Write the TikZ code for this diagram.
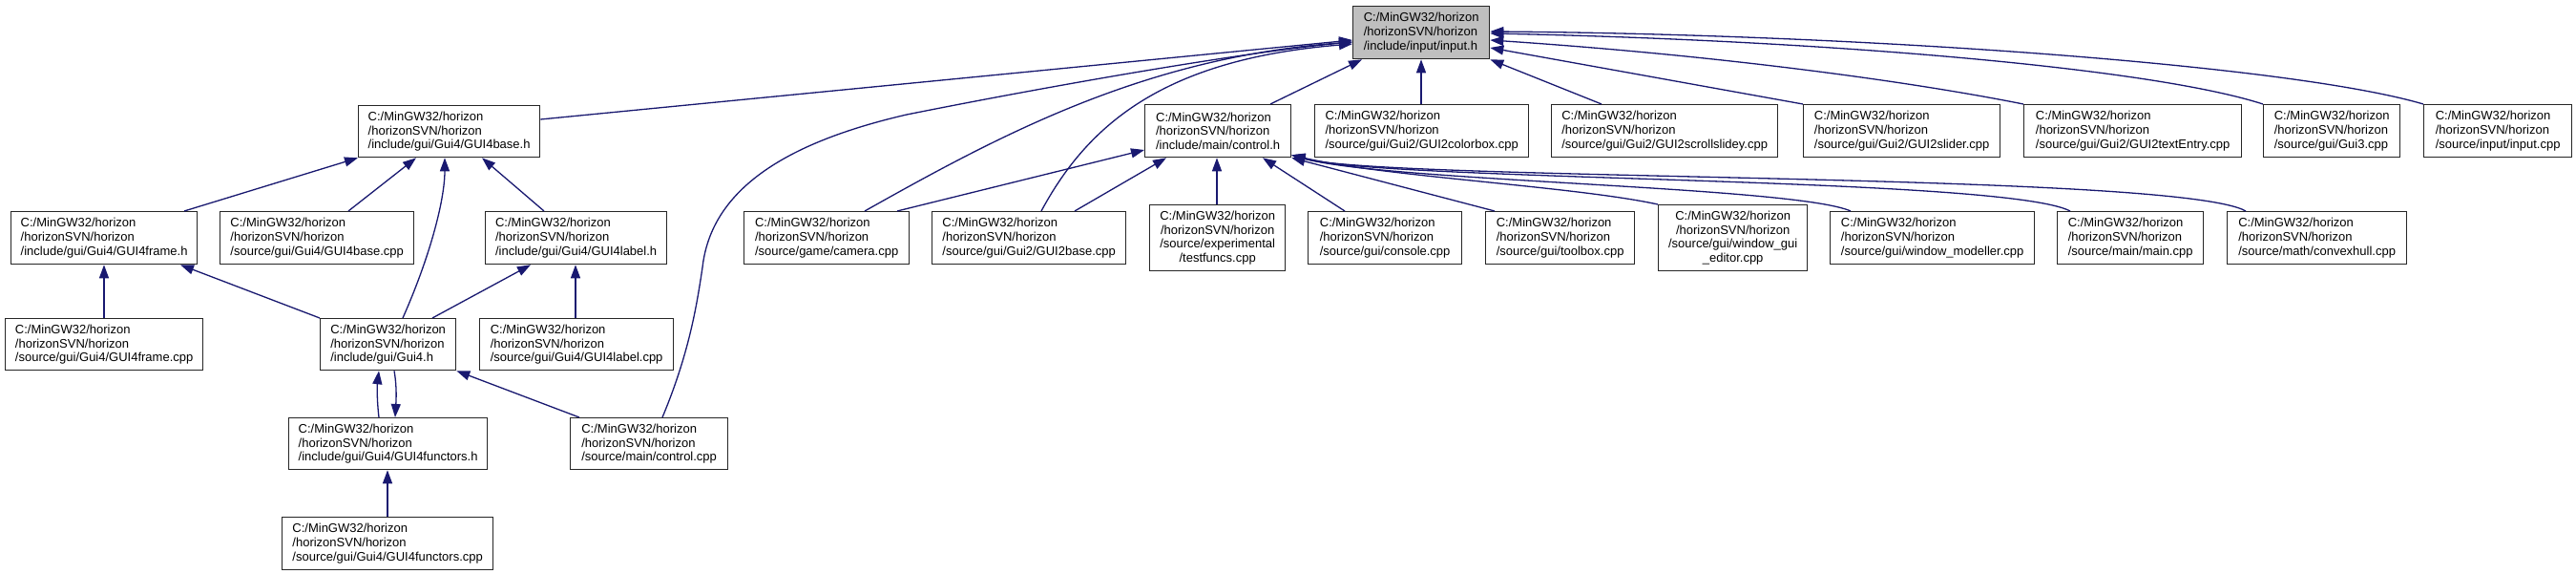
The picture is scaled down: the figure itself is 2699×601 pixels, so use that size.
\documentclass[tikz,border=0pt]{standalone}
\usepackage{fontspec}
\setmainfont{Liberation Sans}
\usetikzlibrary{arrows.meta}
\definecolor{edgeblue}{HTML}{191970}
\definecolor{hlgray}{HTML}{BFBFBF}
\tikzset{
  filebox/.style={draw=black!85, line width=1.3pt, fill=white, inner sep=0pt, anchor=north west,
    align=left, font=\fontsize{13}{14.7}\selectfont},
  dep/.style={draw=edgeblue, line width=1.3pt, -{Triangle[length=14pt,width=10pt]}},
}
\newcommand{\fb}[4]{minimum width=#3pt, minimum height=#4pt}
\begin{document}
\begin{tikzpicture}[x=1pt,y=-1pt]
\useasboundingbox[fill=white] (0,0) rectangle (2699,601);

% row 0
\node[filebox, fill=hlgray, minimum width=143pt, minimum height=55pt] (in) at (1417,6) {C:/MinGW32/horizon\\/horizonSVN/horizon\\/include/input/input.h};

% row 1
\node[filebox, minimum width=190pt, minimum height=54pt] (gbh) at (375,110) {C:/MinGW32/horizon\\/horizonSVN/horizon\\/include/gui/Gui4/GUI4base.h};
\node[filebox, minimum width=153pt, minimum height=55pt] (ctlh) at (1199,109) {C:/MinGW32/horizon\\/horizonSVN/horizon\\/include/main/control.h};
\node[filebox, minimum width=224pt, minimum height=55pt] (colorbox) at (1377,109) {C:/MinGW32/horizon\\/horizonSVN/horizon\\/source/gui/Gui2/GUI2colorbox.cpp};
\node[filebox, minimum width=237pt, minimum height=55pt] (scroll) at (1625,109) {C:/MinGW32/horizon\\/horizonSVN/horizon\\/source/gui/Gui2/GUI2scrollslidey.cpp};
\node[filebox, minimum width=206pt, minimum height=55pt] (slider) at (1889,109) {C:/MinGW32/horizon\\/horizonSVN/horizon\\/source/gui/Gui2/GUI2slider.cpp};
\node[filebox, minimum width=228pt, minimum height=55pt] (textentry) at (2120,109) {C:/MinGW32/horizon\\/horizonSVN/horizon\\/source/gui/Gui2/GUI2textEntry.cpp};
\node[filebox, minimum width=143pt, minimum height=55pt] (gui3) at (2371,109) {C:/MinGW32/horizon\\/horizonSVN/horizon\\/source/gui/Gui3.cpp};
\node[filebox, minimum width=155pt, minimum height=55pt] (inputcpp) at (2539,109) {C:/MinGW32/horizon\\/horizonSVN/horizon\\/source/input/input.cpp};

% row 2
\node[filebox, minimum width=195pt, minimum height=55pt] (gfh) at (11,221) {C:/MinGW32/horizon\\/horizonSVN/horizon\\/include/gui/Gui4/GUI4frame.h};
\node[filebox, minimum width=203pt, minimum height=55pt] (gbcpp) at (230,221) {C:/MinGW32/horizon\\/horizonSVN/horizon\\/source/gui/Gui4/GUI4base.cpp};
\node[filebox, minimum width=190pt, minimum height=55pt] (glh) at (508,221) {C:/MinGW32/horizon\\/horizonSVN/horizon\\/include/gui/Gui4/GUI4label.h};
\node[filebox, minimum width=173pt, minimum height=55pt] (camera) at (779,221) {C:/MinGW32/horizon\\/horizonSVN/horizon\\/source/game/camera.cpp};
\node[filebox, minimum width=203pt, minimum height=55pt] (g2base) at (976,221) {C:/MinGW32/horizon\\/horizonSVN/horizon\\/source/gui/Gui2/GUI2base.cpp};
\node[filebox, align=center, minimum width=142pt, minimum height=69pt] (testf) at (1204,214) {C:/MinGW32/horizon\\/horizonSVN/horizon\\/source/experimental\\/testfuncs.cpp};
\node[filebox, minimum width=161pt, minimum height=55pt] (console) at (1370,221) {C:/MinGW32/horizon\\/horizonSVN/horizon\\/source/gui/console.cpp};
\node[filebox, minimum width=156pt, minimum height=55pt] (toolbox) at (1556,221) {C:/MinGW32/horizon\\/horizonSVN/horizon\\/source/gui/toolbox.cpp};
\node[filebox, align=center, minimum width=156pt, minimum height=69pt] (wge) at (1737,214) {C:/MinGW32/horizon\\/horizonSVN/horizon\\/source/gui/window\_gui\\\_editor.cpp};
\node[filebox, minimum width=214pt, minimum height=55pt] (wmod) at (1917,221) {C:/MinGW32/horizon\\/horizonSVN/horizon\\/source/gui/window\_modeller.cpp};
\node[filebox, minimum width=153pt, minimum height=55pt] (mainc) at (2155,221) {C:/MinGW32/horizon\\/horizonSVN/horizon\\/source/main/main.cpp};
\node[filebox, minimum width=188pt, minimum height=55pt] (convex) at (2333,221) {C:/MinGW32/horizon\\/horizonSVN/horizon\\/source/math/convexhull.cpp};

% row 3
\node[filebox, minimum width=207pt, minimum height=54pt] (gfcpp) at (5,333) {C:/MinGW32/horizon\\/horizonSVN/horizon\\/source/gui/Gui4/GUI4frame.cpp};
\node[filebox, minimum width=142pt, minimum height=54pt] (gui4h) at (335,333) {C:/MinGW32/horizon\\/horizonSVN/horizon\\/include/gui/Gui4.h};
\node[filebox, minimum width=203pt, minimum height=54pt] (glcpp) at (502,333) {C:/MinGW32/horizon\\/horizonSVN/horizon\\/source/gui/Gui4/GUI4label.cpp};

% row 4
\node[filebox, minimum width=208pt, minimum height=54pt] (gfunh) at (302,437) {C:/MinGW32/horizon\\/horizonSVN/horizon\\/include/gui/Gui4/GUI4functors.h};
\node[filebox, minimum width=165pt, minimum height=54pt] (ctlcpp) at (597,437) {C:/MinGW32/horizon\\/horizonSVN/horizon\\/source/main/control.cpp};

% row 5
\node[filebox, minimum width=221pt, minimum height=55pt] (gfuncpp) at (295,541) {C:/MinGW32/horizon\\/horizonSVN/horizon\\/source/gui/Gui4/GUI4functors.cpp};

% edges into input.h
\draw[dep] ([yshift=-15pt]gbh.north east) -- ([yshift=-36pt]in.north west);
\draw[dep] ([xshift=132pt]ctlh.north west) -- ([xshift=10pt]in.south west);
\draw[dep] ([xshift=112pt]colorbox.north west) -- ([xshift=72pt]in.south west);
\draw[dep] ([xshift=53pt]scroll.north west) -- (in.south east);
\draw[dep] (slider.north west) -- ([yshift=-44pt]in.north east);
\draw[dep] (textentry.north west) .. controls (2000,85) and (1800,58) .. ([yshift=-36pt]in.north east);
\draw[dep] (gui3.north west) .. controls (2250,70) and (1900,42) .. ([yshift=-29pt]in.north east);
\draw[dep] (inputcpp.north west) .. controls (2400,68) and (1950,36) .. ([yshift=-27pt]in.north east);
\draw[dep] ([xshift=127pt]camera.north west) .. controls (1050,140) and (1200,60) .. ([yshift=-38pt]in.north west);
\draw[dep] ([xshift=115pt]g2base.north west) .. controls (1140,130) and (1220,62) .. ([yshift=-40pt]in.north west);
\draw[dep] ([xshift=97pt]ctlcpp.north west) .. controls (722,370) and (730,320) .. (736,280)
   .. controls (745,200) and (820,150) .. (950,120) .. controls (1100,90) and (1300,55) .. ([yshift=-38pt]in.north west);

% edges into control.h
\draw[dep] ([xshift=161pt]camera.north west) -- ([yshift=-48pt]ctlh.north west);
\draw[dep] ([xshift=150pt]g2base.north west) -- ([xshift=23pt]ctlh.south west);
\draw[dep] ([xshift=71pt]testf.north west) -- ([xshift=76pt]ctlh.south west);
\draw[dep] ([xshift=39pt]console.north west) -- ([xshift=124pt]ctlh.south west);
\draw[dep] ([xshift=10pt]toolbox.north west) -- (ctlh.south east);
\draw[dep] (wge.north west) .. controls (1650,195) and (1450,185) .. ([yshift=3pt]ctlh.south east);
\draw[dep] ([xshift=22pt]wmod.north west) .. controls (1880,195) and (1450,190) .. ([yshift=3pt]ctlh.south east);
\draw[dep] ([xshift=14pt]mainc.north west) .. controls (2100,185) and (1450,190) .. ([yshift=3pt]ctlh.south east);
\draw[dep] ([xshift=20pt]convex.north west) .. controls (2280,180) and (1450,190) .. ([yshift=3pt]ctlh.south east);

% left cluster
\draw[dep] ([xshift=104pt]gfcpp.north west) -- ([xshift=98pt]gfh.south west);
\draw[dep] (gui4h.north west) -- ([xshift=178pt]gfh.south west);
\draw[dep] ([xshift=182pt]gfh.north west) -- (gbh.south west);
\draw[dep] ([xshift=135pt]gbcpp.north west) -- ([xshift=61pt]gbh.south west);
\draw[dep] ([xshift=87pt]gui4h.north west) .. controls (450,270) and (466,210) .. ([xshift=91pt]gbh.south west);
\draw[dep] ([xshift=62pt]glh.north west) -- ([xshift=130pt]gbh.south west);
\draw[dep] ([xshift=118pt]gui4h.north west) -- ([xshift=48pt]glh.south west);
\draw[dep] ([xshift=101pt]glcpp.north west) -- ([xshift=95pt]glh.south west);
\draw[dep] ([xshift=95pt]gfunh.north west) .. controls (395,420) and (395,405) .. ([xshift=62pt]gui4h.south west);
\draw[dep] ([xshift=78pt]gui4h.south west) .. controls (416,405) and (415,420) .. ([xshift=112pt]gfunh.north west);
\draw[dep] ([xshift=10pt]ctlcpp.north west) -- (gui4h.south east);
\draw[dep] ([xshift=111pt]gfuncpp.north west) -- ([xshift=104pt]gfunh.south west);
\end{tikzpicture}
\end{document}
